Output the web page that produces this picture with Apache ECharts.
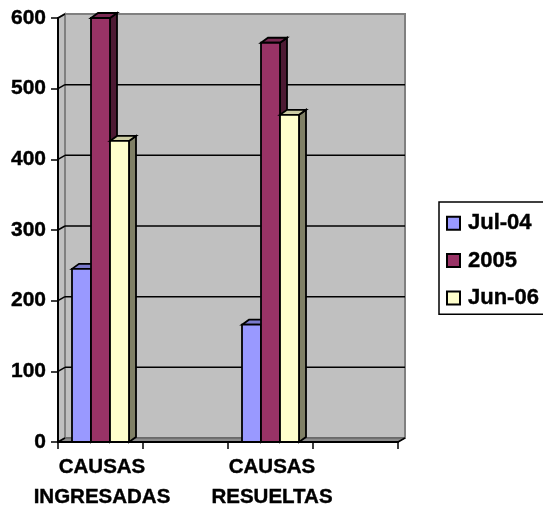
<!DOCTYPE html>
<html>
<head>
<meta charset="utf-8">
<style>html,body{margin:0;padding:0;background:#fff;overflow:hidden}#c{width:543px;height:514px}</style>
<script src="https://cdn.jsdelivr.net/npm/echarts@6/dist/echarts.min.js"></script>
</head>
<body>
<div id="c"></div>
<script>
const categories = ['CAUSAS\nINGRESADAS', '', 'CAUSAS\nRESUELTAS', ''];
const categoryIndexes = [0, 2];
const jul04 = [245, 166];
const y2005 = [600, 565];
const jun06 = [426, 463];
const yTicks = [0, 100, 200, 300, 400, 500, 600];
const seriesNames = ['Jul-04', '2005', 'Jun-06'];

const FONT = '"Liberation Sans", Arial, sans-serif';
const DX = 7, DY = 4;
const BDX = 7, BDY = 5;
const BAR_W = 19;
const palette = [
  {front: '#9999ff', top: '#7a7acc', side: '#4d4d80'},
  {front: '#993366', top: '#7a2952', side: '#4d1a33'},
  {front: '#ffffcc', top: '#cccca3', side: '#808066'}
];
const heavy = {textBorderColor: '#000', textBorderWidth: 0.4};

function poly(points, fill, stroke, lw) {
  return {type: 'polygon', shape: {points}, style: {fill, stroke: stroke || null, lineWidth: lw || 0}};
}
function line(x1, y1, x2, y2, stroke, lw) {
  return {type: 'line', shape: {x1, y1, x2, y2}, style: {stroke, lineWidth: lw}};
}

function renderWalls(params, api) {
  const origin = api.coord([0, 0]);
  const bw = api.size([1, 0])[0];
  const top = api.coord([0, 600])[1];
  const x0 = origin[0] - bw / 2, y0 = origin[1];
  const x1 = x0 + bw * 4;
  return {type: 'group', silent: true, children: [
    poly([[x0 + DX, top - DY], [x1 + DX, top - DY], [x1 + DX, y0 - DY], [x0 + DX, y0 - DY]], '#c0c0c0', '#808080', 2),
    poly([[x0, top], [x0 + DX, top - DY], [x0 + DX, y0 - DY], [x0, y0]], '#c0c0c0', '#808080', 2),
    poly([[x0, y0], [x0 + DX, y0 - DY], [x1 + DX, y0 - DY], [x1, y0]], '#8c8c8c', '#555555', 1)
  ]};
}

function renderGrid(params, api) {
  const origin = api.coord([0, api.value(0)]);
  const bw = api.size([1, 0])[0];
  const x0 = origin[0] - bw / 2, y = origin[1];
  const x1 = x0 + bw * 4;
  const kids = [line(x0, y, x0 + DX, y - DY, '#000', 1.5)];
  if (api.value(0) > 0 && api.value(0) < 600) {
    kids.push(line(x0 + DX, y - DY, x1 + DX, y - DY, '#000', 1.5));
  }
  if (api.value(0) === 0) {
    kids.push(line(x1, y, x1 + DX, y - DY, '#000', 1.5));
  }
  return {type: 'group', silent: true, children: kids};
}

function renderBar(idx) {
  return function (params, api) {
    const p = api.coord([api.value(0), api.value(1)]);
    const base = api.coord([api.value(0), 0])[1];
    const c = palette[idx];
    const l = p[0] - BAR_W * 1.5 + BAR_W * idx, r = l + BAR_W, t = p[1];
    const S = '#000', W = 1.8;
    return {type: 'group', children: [
      poly([[r, t], [r + BDX, t - BDY], [r + BDX, base - BDY], [r, base]], c.side, S, W),
      poly([[l, t], [l + BDX, t - BDY], [r + BDX, t - BDY], [r, t]], c.top, S, W),
      poly([[l, t], [r, t], [r, base], [l, base]], c.front, S, W)
    ]};
  };
}

const barValues = [jul04, y2005, jun06];
const barSeries = seriesNames.map((name, i) => ({
  type: 'custom',
  name,
  clip: false,
  z: 5,
  renderItem: renderBar(i),
  encode: {x: 0, y: 1},
  itemStyle: {color: palette[i].front, borderColor: '#000', borderWidth: 1.5},
  data: barValues[i].map((v, k) => [categoryIndexes[k], v])
}));

const chart = echarts.init(document.getElementById('c'), null, {renderer: 'canvas'});
chart.setOption({
  animation: false,
  backgroundColor: '#fff',
  textStyle: {fontFamily: FONT},
  grid: {left: 58, right: 145, top: 18, bottom: 72, containLabel: false},
  legend: {
    data: seriesNames,
    orient: 'vertical',
    left: 439,
    top: 202,
    padding: [10, 8, 5, 7],
    itemWidth: 13,
    itemHeight: 13,
    itemGap: 15,
    icon: 'rect',
    borderColor: '#000',
    borderWidth: 1.5,
    backgroundColor: '#fff',
    selectedMode: false,
    textStyle: Object.assign({fontFamily: FONT, fontWeight: 'bold', fontSize: 22, color: '#000', padding: [0, 0, 0, 3]}, heavy)
  },
  xAxis: {
    type: 'category',
    data: categories,
    boundaryGap: true,
    z: 10,
    axisLine: {show: true, lineStyle: {color: '#000', width: 2}},
    axisTick: {show: true, length: 7, alignWithLabel: false, interval: 0, lineStyle: {color: '#000', width: 1.5}},
    axisLabel: Object.assign({interval: 0, margin: 10.5, color: '#000', fontFamily: FONT, fontWeight: 'bold', fontSize: 20.5, lineHeight: 30, padding: [0, 0, 0, 3]}, heavy),
    splitLine: {show: false}
  },
  yAxis: {
    type: 'value',
    min: 0,
    max: 600,
    interval: 100,
    z: 10,
    axisLine: {show: true, lineStyle: {color: '#000', width: 2}},
    axisTick: {show: true, length: 7, lineStyle: {color: '#000', width: 1.5}},
    axisLabel: Object.assign({margin: 12, color: '#000', fontFamily: FONT, fontWeight: 'bold', fontSize: 21}, heavy),
    splitLine: {show: false}
  },
  tooltip: {show: false},
  series: [
    {type: 'custom', name: 'walls', silent: true, clip: false, z: 1, renderItem: renderWalls, encode: {x: 0, y: 1}, data: [[0, 0]]},
    {type: 'custom', name: 'gridlines', silent: true, clip: false, z: 2, renderItem: renderGrid, encode: {y: 0}, data: yTicks.map(v => [v])},
    ...barSeries
  ]
});
</script>
</body>
</html>
